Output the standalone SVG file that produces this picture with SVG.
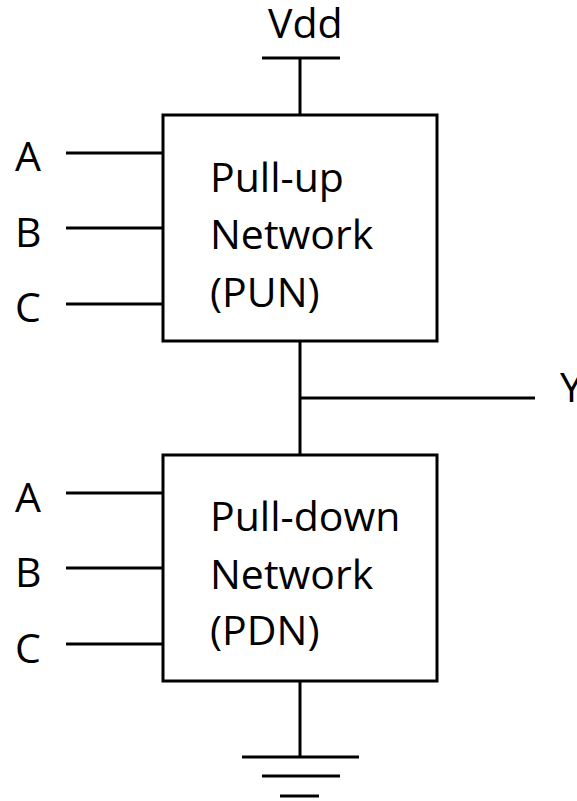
<svg xmlns="http://www.w3.org/2000/svg" width="577" height="801" viewBox="0 0 577 801">
<style>
.w{stroke:#000;stroke-width:3;fill:none}
.b{stroke:#000;stroke-width:3;fill:#fff}
text{font-family:"Open Sans","Noto Sans",sans-serif;font-size:41px;fill:#000}
</style>
<rect width="577" height="801" fill="#fff"/>
<g id="connectors">
<path class="w" d="M262 58H340M300 58V115"/>
<path class="w" d="M66 153H163M66 228H163M66 304H163"/>
<path class="w" d="M300 341V455M300 398H535"/>
<path class="w" d="M66 493H163M66 568H163M66 644H163"/>
<path class="w" d="M300 681V757M242 757H359M262 776H340M280 796H319"/>
</g>
<g id="vdd"><text x="268" y="38">Vdd</text></g>
<g id="inputs-pun">
<text x="15" y="171">A</text>
<text x="15" y="247">B</text>
<text x="15" y="322">C</text>
</g>
<g id="pun">
<rect class="b" x="163" y="115" width="274" height="226"/>
<text x="210" y="192">Pull-up</text>
<text x="210" y="249">Network</text>
<text x="210" y="307">(PUN)</text>
</g>
<g id="output"><text x="560" y="402">Y</text></g>
<g id="inputs-pdn">
<text x="15" y="512">A</text>
<text x="15" y="587">B</text>
<text x="15" y="663">C</text>
</g>
<g id="pdn">
<rect class="b" x="163" y="455" width="274" height="226"/>
<text x="210" y="531">Pull-down</text>
<text x="210" y="589">Network</text>
<text x="210" y="645">(PDN)</text>
</g>
</svg>
